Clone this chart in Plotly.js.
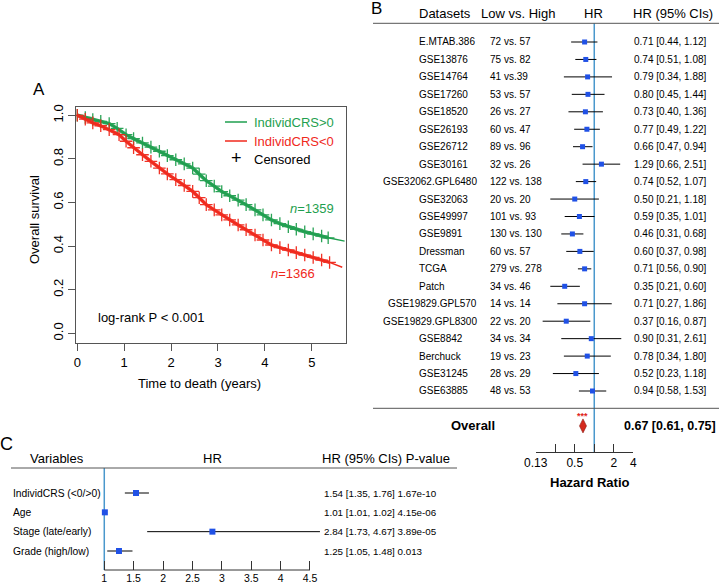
<!DOCTYPE html>
<html><head><meta charset="utf-8">
<script src="https://cdn.plot.ly/plotly-3.0.1.min.js"></script>
<style>html,body{margin:0;padding:0;background:#fff;}#chart{width:719px;height:584px;}</style>
</head><body><div id="chart"></div>
<script>
// ---------- Panel A: Kaplan-Meier ----------
const kmTimeHigh = [0,0.17,0.33,0.5,0.68,0.85,1.04,1.2,1.39,1.57,1.75,1.92,2.10,2.28,2.46,2.6,2.75,2.92,3.08,3.25,3.43,3.6,3.79,3.96,4.14,4.32,4.50,4.67,4.85,5.03,5.21,5.35,5.7];
const kmSurvHigh = [1.0,0.99,0.980,0.972,0.962,0.94,0.911,0.893,0.873,0.854,0.835,0.815,0.796,0.777,0.758,0.73,0.700,0.675,0.650,0.631,0.611,0.590,0.566,0.543,0.520,0.503,0.489,0.477,0.466,0.456,0.446,0.438,0.423];
const kmTimeLow  = [0,0.17,0.33,0.5,0.68,0.89,1.04,1.2,1.39,1.57,1.75,1.92,2.10,2.28,2.46,2.6,2.75,2.92,3.08,3.25,3.43,3.6,3.79,3.96,4.14,4.32,4.50,4.67,4.85,5.03,5.21,5.38,5.65];
const kmSurvLow  = [1.0,0.982,0.965,0.952,0.934,0.911,0.881,0.851,0.819,0.789,0.758,0.731,0.705,0.678,0.651,0.622,0.590,0.566,0.543,0.520,0.497,0.475,0.451,0.428,0.405,0.393,0.382,0.370,0.359,0.348,0.336,0.325,0.303];
const kmTicks = [0,1,2,3,4,5];
const survTicks = [0,0.2,0.4,0.6,0.8,1.0];

// ---------- Panel B: forest plot ----------
const datasets = ['E.MTAB.386','GSE13876','GSE14764','GSE17260','GSE18520','GSE26193','GSE26712','GSE30161','GSE32062.GPL6480','GSE32063','GSE49997','GSE9891','Dressman','TCGA','Patch','GSE19829.GPL570','GSE19829.GPL8300','GSE8842','Berchuck','GSE31245','GSE63885'];
const lowHigh = ['72 vs. 57','75 vs. 82','41 vs.39','53 vs. 57','26 vs. 27','60 vs. 47','89 vs. 96','32 vs. 26','122 vs. 138','20 vs. 20','101 vs. 93','130 vs. 130','60 vs. 57','279 vs. 278','34 vs. 46','14 vs. 14','22 vs. 20','34 vs. 34','19 vs. 23','28 vs. 29','48 vs. 53'];
const hr     = [0.71,0.74,0.79,0.80,0.73,0.77,0.66,1.29,0.74,0.50,0.59,0.46,0.60,0.71,0.35,0.71,0.37,0.90,0.78,0.52,0.94];
const hrLow  = [0.44,0.51,0.34,0.45,0.40,0.49,0.47,0.66,0.52,0.21,0.35,0.31,0.37,0.56,0.21,0.27,0.16,0.31,0.34,0.23,0.58];
const hrHigh = [1.12,1.08,1.88,1.44,1.36,1.22,0.94,2.51,1.07,1.18,1.01,0.68,0.98,0.90,0.60,1.86,0.87,2.61,1.80,1.18,1.53];
const overallHR = [0.67], overallLow = [0.61], overallHigh = [0.75];
const hrTickVals = [0.125,0.25,0.5,1,2,4];
const hrTickText = ['0.13','','0.5','','2','4'];

// ---------- Panel C: multivariate ----------
const variables = ['IndividCRS (<0/>0)','Age','Stage (late/early)','Grade (high/low)'];
const cHR   = [1.54,1.01,2.84,1.25];
const cLow  = [1.35,1.01,1.73,1.05];
const cHigh = [1.76,1.02,4.67,1.48];
const cP    = ['1.67e-10','4.15e-06','3.89e-05','0.013'];
const cTicks = [1,1.5,2,2.5,3,3.5,4,4.5];

// ---------- helpers ----------
const W = 719, H = 584;
const px = v => v / W;
const py = v => 1 - v / H;
const FONT = 'Liberation Sans, Arial, Helvetica, sans-serif';
const GREEN = '#1f9f4f', RED = '#f0291c', BLUE = '#2051e6', VLINE = '#4a98cc';
const fmt = (a,b,c) => a.toFixed(2) + ' [' + b.toFixed(2) + ', ' + c.toFixed(2) + ']';

const traces = [];
// KM curves (thin line) and censor band (crosses)
traces.push({x: kmTimeHigh, y: kmSurvHigh, xaxis:'x', yaxis:'y', mode:'lines', line:{color:GREEN, width:1.4}, hoverinfo:'skip'});
traces.push({x: kmTimeLow, y: kmSurvLow, xaxis:'x', yaxis:'y', mode:'lines', line:{color:RED, width:1.4}, hoverinfo:'skip'});
traces.push({x: kmTimeHigh.slice(0,-1), y: kmSurvHigh.slice(0,-1), xaxis:'x', yaxis:'y', mode:'lines+markers',
  line:{color:GREEN, width:3.5}, opacity:0.95, marker:{symbol:'cross-thin', size:9, line:{color:GREEN, width:1.3}}, hoverinfo:'skip'});
traces.push({x: kmTimeLow.slice(0,-1), y: kmSurvLow.slice(0,-1), xaxis:'x', yaxis:'y', mode:'lines+markers',
  line:{color:RED, width:3.5}, opacity:0.95, marker:{symbol:'cross-thin', size:9, line:{color:RED, width:1.3}}, hoverinfo:'skip'});

// Forest B: CI lines
const idx = datasets.map((d,i)=>i);
const bx = [], by = [];
idx.forEach(i => { bx.push(hrLow[i], hrHigh[i], null); by.push(i, i, null); });
traces.push({x: bx, y: by, xaxis:'x2', yaxis:'y2', mode:'lines', line:{color:'#000', width:1}, hoverinfo:'skip'});
traces.push({x: hr, y: idx, xaxis:'x2', yaxis:'y2', mode:'markers', marker:{symbol:'square', size:5, color:BLUE}, hoverinfo:'skip', cliponaxis:false});
traces.push({x: overallHR, y: [22], xaxis:'x2', yaxis:'y2', mode:'markers',
  marker:{symbol:'diamond-tall', size:10, color:'#d42a1e', line:{color:'#8a1a10', width:0.6}}, hoverinfo:'skip', cliponaxis:false});

// Forest C
const cIdx = variables.map((d,i)=>i);
const cx = [], cy = [];
cIdx.forEach(i => { cx.push(cLow[i], cHigh[i], null); cy.push(i, i, null); });
traces.push({x: cx, y: cy, xaxis:'x3', yaxis:'y3', mode:'lines', line:{color:'#000', width:1}, hoverinfo:'skip'});
traces.push({x: cHR, y: cIdx, xaxis:'x3', yaxis:'y3', mode:'markers', marker:{symbol:'square', size:6, color:BLUE}, hoverinfo:'skip', cliponaxis:false});

const ann = [];
const A = (o) => ann.push(Object.assign({showarrow:false, xref:'paper', yref:'paper', xanchor:'center', yanchor:'middle',
  font:{family:FONT, size:13, color:'#000'}}, o));

// Panel letters
A({text:'A', x:px(39), y:py(89), font:{family:FONT, size:17, color:'#000'}});
A({text:'B', x:px(377), y:py(8), font:{family:FONT, size:17, color:'#000'}});
A({text:'C', x:px(6), y:py(444), font:{family:FONT, size:18, color:'#000'}});

// Panel A texts
A({text:'Overall survival', x:px(35), y:py(220), textangle:-90});
A({text:'Time to death (years)', x:px(199), y:py(383)});
A({text:'IndividCRS>0', x:px(252), y:py(122), xanchor:'left', font:{family:FONT, size:13, color:GREEN}});
A({text:'IndividCRS<0', x:px(252), y:py(141), xanchor:'left', font:{family:FONT, size:13, color:RED}});
A({text:'Censored', x:px(252), y:py(159), xanchor:'left'});
A({text:'+', x:px(236), y:py(158), font:{family:FONT, size:18, color:'#000'}});
A({text:'<i>n</i>=1359', x:px(312), y:py(208), font:{family:FONT, size:13, color:GREEN}});
A({text:'<i>n</i>=1366', x:px(293), y:py(273), font:{family:FONT, size:13, color:RED}});
A({text:'log-rank P < 0.001', x:px(96), y:py(317), xanchor:'left'});

// Panel B headers
A({text:'Datasets', x:px(445), y:py(13)});
A({text:'Low vs. High', x:px(518), y:py(13)});
A({text:'HR', x:px(593), y:py(13)});
A({text:'HR (95% CIs)', x:px(673), y:py(13)});
// Panel B rows
datasets.forEach((d,i) => {
  if (d.length > 12) A({text:d, x:px(479), xanchor:'right', y:i, yref:'y2', font:{family:FONT, size:10, color:'#000'}});
  else A({text:d, x:px(417), xanchor:'left', y:i, yref:'y2', font:{family:FONT, size:10, color:'#000'}});
  A({text:lowHigh[i], x:px(488), xanchor:'left', y:i, yref:'y2', font:{family:FONT, size:10, color:'#000'}});
  A({text:fmt(hr[i],hrLow[i],hrHigh[i]), x:px(632), xanchor:'left', y:i, yref:'y2', font:{family:FONT, size:10, color:'#000'}});
});
A({text:'<b>Overall</b>', x:px(473), y:22, yref:'y2', font:{family:FONT, size:13, color:'#000'}});
A({text:'<b>' + fmt(overallHR[0], overallLow[0], overallHigh[0]) + '</b>', x:px(670), y:22, yref:'y2', font:{family:FONT, size:12.5, color:'#000'}});
A({text:'<b>***</b>', x:Math.log10(overallHR[0]), xref:'x2', y:py(416), font:{family:FONT, size:9, color:'#e0251a'}});
A({text:'<b>Hazard Ratio</b>', x:px(590), y:py(482), font:{family:FONT, size:13, color:'#000'}});

// Panel C headers and rows
A({text:'Variables', x:px(57), y:py(458)});
A({text:'HR', x:px(212), y:py(458)});
A({text:'HR (95% CIs) P-value', x:px(386), y:py(458)});
variables.forEach((v,i) => {
  A({text:v, x:px(11), xanchor:'left', y:i, yref:'y3', font:{family:FONT, size:10.3, color:'#000'}});
  A({text:fmt(cHR[i],cLow[i],cHigh[i]) + ' ' + cP[i], x:px(322), xanchor:'left', y:i, yref:'y3', font:{family:FONT, size:9.8, color:'#000'}});
});

const shapes = [
  {type:'line', xref:'paper', yref:'paper', x0:px(225), x1:px(247), y0:py(122), y1:py(122), line:{color:GREEN, width:1.5}},
  {type:'line', xref:'paper', yref:'paper', x0:px(225), x1:px(247), y0:py(141), y1:py(141), line:{color:RED, width:1.5}},
  {type:'line', xref:'paper', yref:'paper', x0:px(373), x1:px(719), y0:py(23.3), y1:py(23.3), line:{color:'#555', width:1}},
  {type:'line', xref:'paper', yref:'paper', x0:px(373), x1:px(719), y0:py(408.3), y1:py(408.3), line:{color:'#555', width:1}},
  {type:'line', xref:'x2', yref:'paper', x0:1, x1:1, y0:py(452), y1:py(23.3), line:{color:VLINE, width:1.5}, layer:'below'},
  {type:'line', xref:'paper', yref:'paper', x0:px(11), x1:px(457), y0:py(468), y1:py(468), line:{color:'#555', width:1}},
  {type:'line', xref:'x3', yref:'paper', x0:cTicks[0], x1:cTicks[cTicks.length-1], y0:py(570), y1:py(570), line:{color:'#333', width:1}},
  {type:'line', xref:'x3', yref:'paper', x0:1, x1:1, y0:py(570), y1:py(468), line:{color:VLINE, width:1.5}, layer:'below'}
];

const layout = {
  width: W, height: H, margin:{l:0, r:0, t:0, b:0}, showlegend:false,
  paper_bgcolor:'#fff', plot_bgcolor:'rgba(0,0,0,0)',
  font:{family:FONT, size:13, color:'#000'},
  xaxis:{domain:[px(76), px(346)], range:[-0.028, 5.73], tickvals:kmTicks, ticks:'outside', ticklen:7, tickcolor:'#555',
    showline:true, mirror:true, linecolor:'#555', linewidth:1, showgrid:false, zeroline:false, tickfont:{size:13}, anchor:'y', fixedrange:true},
  yaxis:{domain:[py(343), py(107)], range:[-0.0445, 1.038], tickvals:survTicks, ticktext:survTicks.map(v=>v.toFixed(1)), tickangle:-90,
    ticks:'outside', ticklen:7, tickcolor:'#555', showline:true, mirror:true, linecolor:'#555', linewidth:1, showgrid:false, zeroline:false,
    tickfont:{size:13}, anchor:'x', fixedrange:true},
  xaxis2:{domain:[px(535.7), px(633.3)], type:'log', range:[Math.log10(0.125), Math.log10(4)], tickvals:hrTickVals, ticktext:hrTickText,
    ticks:'inside', ticklen:8, tickcolor:'#333', showline:true, linecolor:'#333', linewidth:1, showgrid:false, zeroline:false,
    tickfont:{size:12}, anchor:'y2', fixedrange:true},
  yaxis2:{domain:[py(452), py(23.3)], range:[23.496, -1.0716], visible:false, anchor:'x2', fixedrange:true},
  xaxis3:{domain:[px(98.4), px(327.6)], range:[0.9, 4.8], tickvals:cTicks, ticks:'inside', ticklen:9, tickcolor:'#333',
    showline:false, showgrid:false, zeroline:false, tickfont:{size:10.5}, anchor:'y3', fixedrange:true},
  yaxis3:{domain:[py(570), py(467)], range:[3.983, -1.345], visible:false, anchor:'x3', fixedrange:true},
  annotations: ann, shapes: shapes
};
Plotly.newPlot('chart', traces, layout, {displayModeBar:false, staticPlot:true});
</script></body></html>
